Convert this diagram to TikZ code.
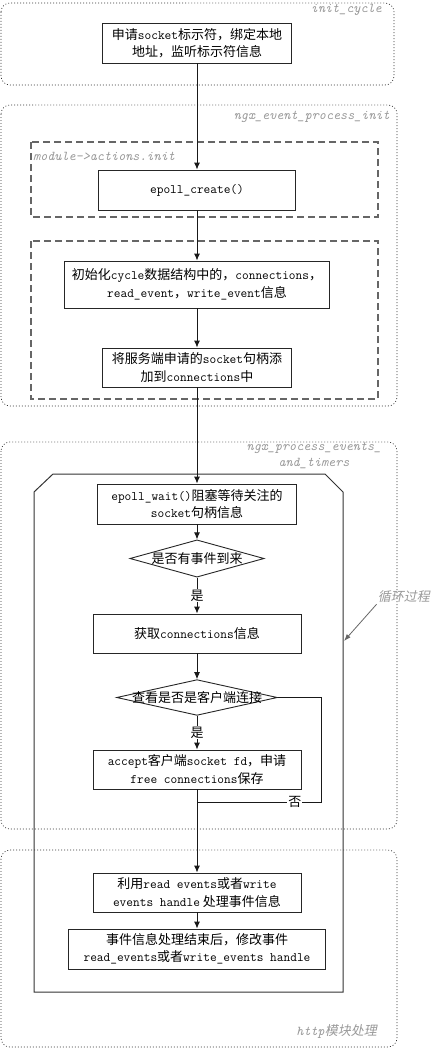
\documentclass[tikz,border=0pt]{standalone}
\usepackage{fontspec}
\setmainfont{Noto Sans CJK SC}
\newfontfamily\cjkslant{Noto Sans CJK SC}[FakeSlant=0.2]
\usetikzlibrary{arrows.meta,shapes.geometric}
\tikzset{
  proc/.style={
    shape = rectangle,
    draw = black!85,
    fill = white,
    line width = 0.9pt,
    align = center,
    inner sep = 2pt,
    font = \fontsize{13}{17.5}\selectfont
  },
}
\tikzset{
  decision/.style={
    shape = diamond,
    draw = black!85,
    fill = white,
    line width = 0.9pt,
    inner sep = 0pt,
    font = \fontsize{13}{17.5}\selectfont
  },
}
\tikzset{
  flow/.style={
    draw = black!90,
    line width = 0.9pt,
    -{Latex[length=7pt,width=6pt]}
  },
  plain/.style={
    draw = black!90,
    line width = 0.9pt
  },
  yesno/.style={
    fill = white,
    inner sep = 1pt,
    font = \fontsize{13}{15}\selectfont
  },
  stage/.style={
    draw = black!80,
    line width = 0.7pt,
    dash pattern = on 0.9pt off 2.1pt,
    rounded corners = 9pt
  },
  group/.style={
    draw = black!60,
    line width = 1.2pt,
    dash pattern = on 7pt off 4pt
  },
  loopbox/.style={
    draw = black!80,
    line width = 1pt
  },
  tag/.style={
    text = black!40,
    inner sep = 1pt,
    font = \fontsize{13.5}{16}\selectfont\ttfamily\itshape
  },
  cntag/.style={
    text = black!40,
    inner sep = 1pt,
    font = \fontsize{13}{16}\selectfont\cjkslant
  },
  note/.style={
    draw = black!60,
    line width = 0.8pt,
    -{Latex[length=7pt,width=5pt]}
  }
}

\begin{document}
\begin{tikzpicture}[x=1pt,y=-1pt]
    \def\xc{197}
    \useasboundingbox (0,0) rectangle (433,1049);
    % stages
    \draw[stage] (1,3) rectangle (394,85);
    \draw[stage] (1,105) rectangle (397,406);
    \draw[stage] (1,442) rectangle (397,829);
    \draw[stage] (1,850) rectangle (397,1047);
    \node[tag, anchor=east] (tcycle) at (383,10) {init\_cycle};
    \node[tag, anchor=east] (tinit) at (391,117) {ngx\_event\_process\_init};
    \node[tag, align=center] (ttimers) at (314,455) {ngx\_process\_events\_\\and\_timers};
    \node[anchor=east, inner sep=1pt] (thttp) at (378,1032)
        {\textcolor{black!40}{\fontsize{13.5}{16}\selectfont\ttfamily\itshape http}\textcolor{black!40}{\fontsize{13}{16}\selectfont\cjkslant 模块处理}};
    % module init groups
    \draw[group] (31,142) rectangle (378,217);
    \draw[group] (31,241) rectangle (378,399);
    \node[tag, anchor=west] (tmodule) at (32,156) {module->actions.init};
    % event loop
    \draw[loopbox] (53,474) -- (325,474) -- (343,492) -- (343,992) -- (34,992) -- (34,492) -- cycle;
    \node[cntag, anchor=east] (tloop) at (431,597) {循环过程};
    \coordinate (loopedge) at (344,641);
    \draw[note] (tloop.south west) -- (loopedge);

    % steps
    \node[proc, minimum width=189, minimum height=40] (sock) at (\xc,43)
        {申请\texttt{socket}标示符，绑定本地\\地址，监听标示符信息};
    \node[proc, minimum width=197, minimum height=40] (ecreate) at (\xc,190)
        {\texttt{epoll\_create()}};
    \node[proc, minimum width=265, minimum height=47] (cinit) at (\xc,284.5)
        {初始化\texttt{cycle}数据结构中的，\texttt{connections}，\\\texttt{read\_event}，\texttt{write\_event}信息};
    \node[proc, minimum width=189, minimum height=39] (addconn) at (\xc,367.5)
        {将服务端申请的\texttt{socket}句柄添\\加到\texttt{connections}中};
    \node[proc, minimum width=199, minimum height=40] (ewait) at (\xc,504)
        {\texttt{epoll\_wait()}阻塞等待关注的\\\texttt{socket}句柄信息};
    \node[decision, aspect=3.6] (hasev) at (\xc,558.5) {是否有事件到来};
    \node[proc, minimum width=208, minimum height=39] (getconn) at (\xc,633.5)
        {获取\texttt{connections}信息};
    \node[decision, aspect=4.5, inner xsep=-12pt] (isclient) at (\xc,697.5) {查看是否是客户端连接};
    \node[proc, minimum width=208, minimum height=39] (accept) at (\xc,769.5)
        {\texttt{accept}客户端\texttt{socket fd}，申请\\\texttt{free connections}保存};
    \node[proc, minimum width=208, minimum height=39] (handle) at (\xc,892.5)
        {利用\texttt{read events}或者\texttt{write}\\\texttt{events handle} 处理事件信息};
    \node[proc, minimum width=257, minimum height=40] (modify) at (\xc,949)
        {事件信息处理结束后，修改事件\\\texttt{read\_events}或者\texttt{write\_events handle}};
    \coordinate (noturn) at (321,802);
    \coordinate (join) at (\xc,802);

    % connectors
    \draw[flow] (sock) -- (ecreate);
    \draw[flow] (ecreate) -- (cinit);
    \draw[flow] (cinit) -- (addconn);
    \draw[flow] (addconn) -- (ewait);
    \draw[flow] (ewait) -- (hasev);
    \draw[flow] (hasev) -- node[yesno] {是} (getconn);
    \draw[flow] (getconn) -- (isclient);
    \draw[flow] (isclient) -- node[yesno] {是} (accept);
    \draw[plain] (isclient.east) -| (noturn) -- node[yesno, pos=0.21] {否} (join);
    \draw[flow] (accept) -- (handle);
    \draw[flow] (handle) -- (modify);
\end{tikzpicture}
\end{document}
